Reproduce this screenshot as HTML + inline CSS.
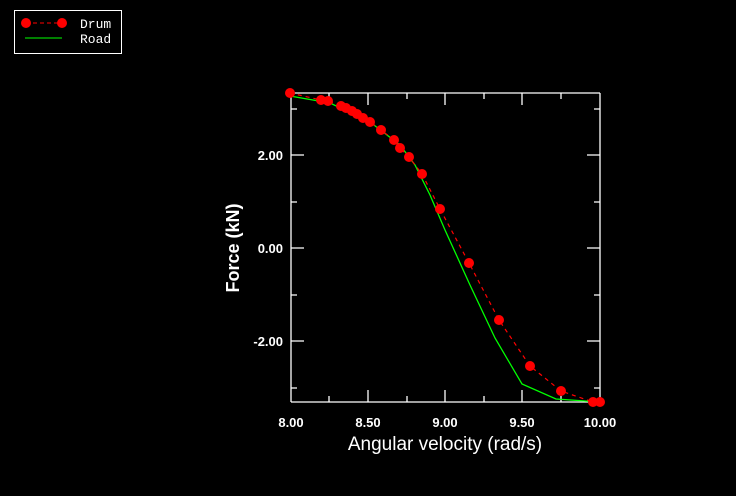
<!DOCTYPE html>
<html><head><meta charset="utf-8"><style>
html,body{margin:0;padding:0;background:#000;}
svg{display:block;}
</style></head><body>
<svg width="736" height="496" viewBox="0 0 736 496" xmlns="http://www.w3.org/2000/svg">
<rect width="736" height="496" fill="#000"/>
<rect x="14.5" y="10.5" width="107" height="43" fill="none" stroke="#fff" stroke-width="1"/>
<line x1="26" y1="23" x2="62" y2="23" stroke="#f00" stroke-dasharray="4,3"/>
<circle cx="26" cy="23" r="5" fill="#f00"/>
<circle cx="62" cy="23" r="5" fill="#f00"/>
<line x1="25" y1="38" x2="62" y2="38" stroke="#0f0" stroke-width="1"/>
<text x="80" y="28" fill="#fff" font-family="Liberation Mono, monospace" font-size="13">Drum</text>
<text x="80" y="43" fill="#fff" font-family="Liberation Mono, monospace" font-size="13">Road</text>
<g stroke="#fff" stroke-width="1.3" fill="none">
<line x1="291" y1="93" x2="291" y2="402"/>
<line x1="291" y1="402" x2="600" y2="402"/>
<line x1="600" y1="93" x2="600" y2="402"/>
<line x1="291" y1="93" x2="600" y2="93"/>
<path d="M368 402v-12M445 402v-12M522 402v-12M368 93v12M445 93v12M522 93v12"/>
<path d="M329 402v-6M407 402v-6M484 402v-6M561 402v-6M329 93v4M407 93v6M484 93v6M561 93v6"/>
<path d="M291 155h13M291 248h13M291 341h13M600 155h-13M600 248h-13M600 341h-13"/>
<path d="M291 109h6M291 202h6M291 295h6M291 388h6M600 109h-6M600 202h-6M600 295h-6M600 388h-6"/>
</g>
<g fill="#fff" font-family="Liberation Sans, sans-serif" font-size="13" font-weight="bold">
<text x="283" y="160" text-anchor="end">2.00</text>
<text x="283" y="253" text-anchor="end">0.00</text>
<text x="283" y="346" text-anchor="end">-2.00</text>
<text x="291" y="427" text-anchor="middle">8.00</text>
<text x="368" y="427" text-anchor="middle">8.50</text>
<text x="445" y="427" text-anchor="middle">9.00</text>
<text x="522" y="427" text-anchor="middle">9.50</text>
<text x="600" y="427" text-anchor="middle">10.00</text>
</g>
<text x="445" y="450" fill="#fff" font-family="Liberation Sans, sans-serif" font-size="19" text-anchor="middle">Angular velocity (rad/s)</text>
<text transform="translate(239,248) rotate(-90)" fill="#fff" font-family="Liberation Sans, sans-serif" font-size="18" font-weight="bold" text-anchor="middle">Force (kN)</text>
<polyline fill="none" stroke="#0f0" stroke-width="1.3" points="290,96 330,103 370,122 400,145 415,165 430,195 445,230 470,285 495,338 522,384 556,399 600,402"/>
<polyline fill="none" stroke="#f00" stroke-width="1.2" stroke-dasharray="4,4" points="290,93 321,100 328,101 341,106 346,108 352,111 357,114 363,118 370,122 381,130 394,140 400,148 409,157 422,174 440,209 469,263 499,320 530,366 561,391 593,402 600,402"/>
<g fill="#f00">
<circle cx="290" cy="93" r="5"/><circle cx="321" cy="100" r="5"/><circle cx="328" cy="101" r="5"/>
<circle cx="341" cy="106" r="5"/><circle cx="346" cy="108" r="5"/><circle cx="352" cy="111" r="5"/>
<circle cx="357" cy="114" r="5"/><circle cx="363" cy="118" r="5"/><circle cx="370" cy="122" r="5"/>
<circle cx="381" cy="130" r="5"/><circle cx="394" cy="140" r="5"/><circle cx="400" cy="148" r="5"/>
<circle cx="409" cy="157" r="5"/><circle cx="422" cy="174" r="5"/><circle cx="440" cy="209" r="5"/>
<circle cx="469" cy="263" r="5"/><circle cx="499" cy="320" r="5"/><circle cx="530" cy="366" r="5"/>
<circle cx="561" cy="391" r="5"/><circle cx="593" cy="402" r="5"/><circle cx="600" cy="402" r="5"/>
</g>
</svg>
</body></html>
